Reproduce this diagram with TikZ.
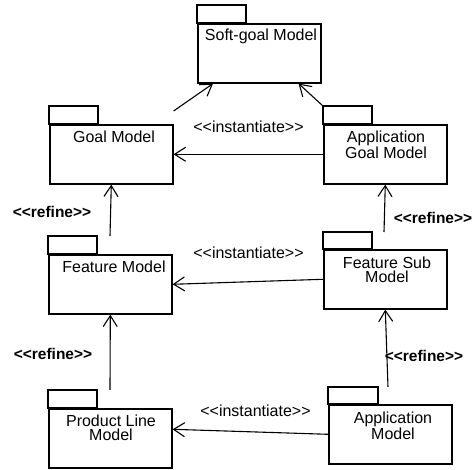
\documentclass[tikz,border=0pt]{standalone}
\usepackage{fontspec}
\setmainfont[Ligatures=TeXOff]{Liberation Sans}
\usetikzlibrary{arrows.meta}
\begin{document}
\begin{tikzpicture}[x=1pt,y=-1pt,
  pkgbody/.style={draw,line width=1.6pt,rectangle,inner sep=0pt,anchor=north west,
    minimum width=123pt,minimum height=59pt},
  pkgtab/.style={draw,line width=1.6pt},
  pkgname/.style={anchor=north,inner sep=0pt,align=center,
    font=\fontsize{16}{14}\selectfont},
  conn/.style={line width=1.1pt,-{Straight Barb[length=11pt,width=14pt,line width=1.1pt]}},
  stereo/.style={anchor=base,inner sep=0pt,font=\fontsize{16}{18}\selectfont},
  refinelbl/.style={anchor=base,inner sep=0pt,font=\fontsize{15.5}{18}\selectfont\bfseries}]
  \useasboundingbox (0,0) rectangle (472,470);

  % packages: body, tab drawn on top of the body's upper left corner
  \node[pkgbody] (sg) at (197,23) {};
  \draw[pkgtab] (sg.north west) rectangle ++(49,-18) coordinate (sgtab);
  \node[pkgname] (sgname) at (261,28.3) {Soft-goal Model};

  \node[pkgbody] (gm) at (49,124) {};
  \draw[pkgtab] (gm.north west) rectangle ++(49,-18) coordinate (gmtab);
  \node[pkgname] (gmname) at (114,130.3) {Goal Model};

  \node[pkgbody] (agm) at (323,124) {};
  \draw[pkgtab] (agm.north west) rectangle ++(49,-18) coordinate (agmtab);
  \node[pkgname] (agmname) at (386,130.3) {Application\\Goal Model};

  \node[pkgbody] (fm) at (48,254) {};
  \draw[pkgtab] (fm.north west) rectangle ++(49,-18) coordinate (fmtab);
  \node[pkgname] (fmname) at (114,260.3) {Feature Model};

  \node[pkgbody] (fsm) at (323,249) {};
  \draw[pkgtab] (fsm.north west) rectangle ++(49,-17) coordinate (fsmtab);
  \node[pkgname] (fsmname) at (387,256.3) {Feature Sub\\Model};

  \node[pkgbody] (plm) at (48,408) {};
  \draw[pkgtab] (plm.north west) rectangle ++(49,-18) coordinate (plmtab);
  \node[pkgname] (plmname) at (111,414.3) {Product Line\\Model};

  \node[pkgbody] (am) at (328,404) {};
  \draw[pkgtab] (am.north west) rectangle ++(50,-17) coordinate (amtab);
  \node[pkgname] (amname) at (393,411.3) {Application\\Model};

  % dependencies
  \draw[conn] ([yshift=13pt]gm.north east) -- ([xshift=16pt]sg.south west);
  \draw[conn] ([xshift=-49pt]agmtab) -- ([xshift=-23pt]sg.south east);
  \draw[conn] (agm.west) -- (gm.east);
  \draw[conn] ([xshift=13pt]fmtab) -- (gm.south);
  \draw[conn] ([xshift=12pt]fsmtab) -- (agm.south);
  \draw[conn] (fsm.west) -- (fm.east);
  \draw[conn] ([xshift=13pt]plmtab) -- (fm.south);
  \draw[conn] ([xshift=10pt]amtab) -- (fsm.south);
  \draw[conn] (am.west) -- ([yshift=9pt]plm.east);

  % stereotypes
  \node[stereo] (inst1) at (248.5,133) {<<instantiate>>};
  \node[stereo] (inst2) at (248.5,259) {<<instantiate>>};
  \node[stereo] (inst3) at (255.5,417) {<<instantiate>>};
  \node[refinelbl] (ref1) at (52,218) {<<refine>>};
  \node[refinelbl] (ref2) at (433,224) {<<refine>>};
  \node[refinelbl] (ref3) at (53,360) {<<refine>>};
  \node[refinelbl] (ref4) at (424,362) {<<refine>>};
\end{tikzpicture}
\end{document}
